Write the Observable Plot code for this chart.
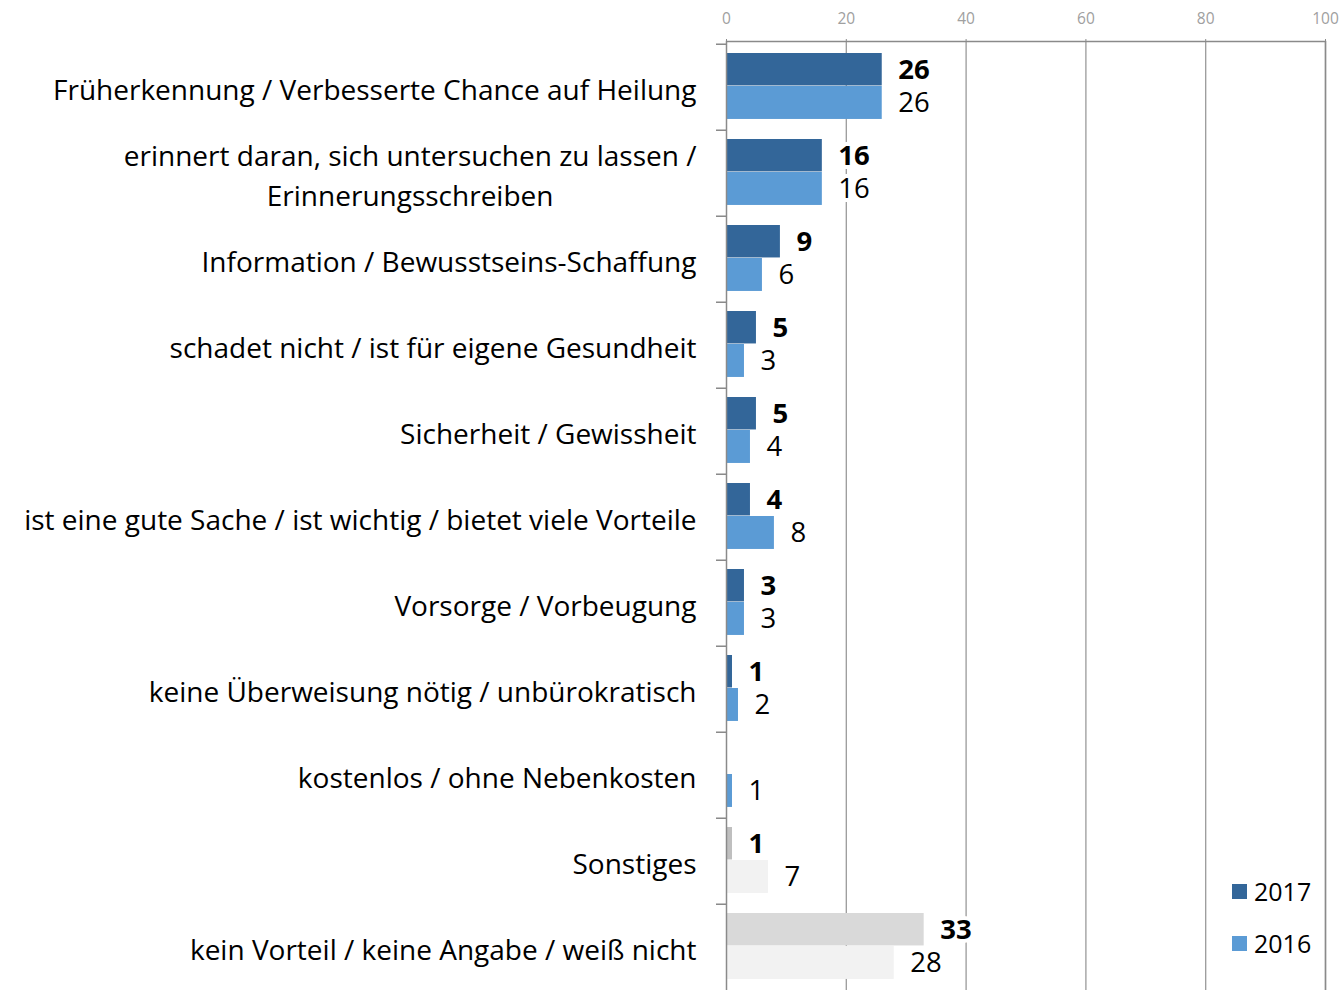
<!DOCTYPE html>
<html>
<head>
<meta charset="utf-8">
<script src="https://cdn.jsdelivr.net/npm/d3@7"></script>
<script src="https://cdn.jsdelivr.net/npm/@observablehq/plot@0.6"></script>
<style>
  html, body { margin: 0; padding: 0; background: #fff; overflow: hidden; }
  #wrap { position: relative; width: 1342px; height: 990px; }
  .legend { position: absolute; left: 1232px; font-family: 'Open Sans', sans-serif; font-size: 25px; line-height: 30px; color: #000; display: flex; align-items: center; }
  .legend span.sw { display: inline-block; width: 15px; height: 15px; margin-right: 7px; }
</style>
</head>
<body>
<div id="wrap"></div>
<script>
const categories = [
  "Früherkennung / Verbesserte Chance auf Heilung",
  "erinnert daran, sich untersuchen zu lassen /\nErinnerungsschreiben",
  "Information / Bewusstseins-Schaffung",
  "schadet nicht / ist für eigene Gesundheit",
  "Sicherheit / Gewissheit",
  "ist eine gute Sache / ist wichtig / bietet viele Vorteile",
  "Vorsorge / Vorbeugung",
  "keine Überweisung nötig / unbürokratisch",
  "kostenlos / ohne Nebenkosten",
  "Sonstiges",
  "kein Vorteil / keine Angabe / weiß nicht"
];
const values2017 = [26, 16, 9, 5, 5, 4, 3, 1, null, 1, 33];
const values2016 = [26, 16, 6, 3, 4, 8, 3, 2, 1, 7, 28];
const years = ["2017", "2016"];
const xTicks = [0, 20, 40, 60, 80, 100];

const blue = {"2017": "#336699", "2016": "#5b9bd5"};
const greys = {
  "Sonstiges": {"2017": "#bfbfbf", "2016": "#f2f2f2"},
  "kein Vorteil / keine Angabe / weiß nicht": {"2017": "#d9d9d9", "2016": "#f2f2f2"}
};
const fillFor = d => (greys[d.category] || blue)[d.year];

const rows2017 = categories.map((c, i) => ({category: c, year: years[0], value: values2017[i]})).filter(d => d.value != null);
const rows2016 = categories.map((c, i) => ({category: c, year: years[1], value: values2016[i]})).filter(d => d.value != null);

const W = 1342, H = 993, mTop = 41, mLeft = 726, mRight = 17, mBottom = 0;
const bw = (H - mTop - mBottom) / categories.length;
const font = "'Open Sans', sans-serif";

const chart = Plot.plot({
  width: W,
  height: H,
  marginTop: mTop,
  marginLeft: mLeft,
  marginRight: mRight,
  marginBottom: mBottom,
  style: {fontFamily: font, fontSize: "26px", background: "#fff"},
  x: {domain: [0, 100], ticks: xTicks, label: null},
  y: {domain: categories, padding: 0, label: null},
  marks: [
    Plot.ruleX(xTicks.slice(1), {stroke: "#9a9a9a", strokeWidth: 1.3}),
    Plot.barX(rows2017, {x: "value", y: "category", fill: fillFor, insetTop: 9, insetBottom: bw - 42}),
    Plot.barX(rows2016, {x: "value", y: "category", fill: fillFor, insetTop: 42, insetBottom: bw - 75.5}),
    Plot.text(rows2017, {x: "value", y: "category", text: d => String(d.value), textAnchor: "start", dx: 16, dy: -17, fontWeight: "bold", fontSize: 27.5, fill: "#000", stroke: "#fff", strokeWidth: 8}),
    Plot.text(rows2016, {x: "value", y: "category", text: d => String(d.value), textAnchor: "start", dx: 16, dy: 16, fontSize: 27.5, fill: "#000", stroke: "#fff", strokeWidth: 8}),
    Plot.frame({stroke: "#8a8a8a", strokeWidth: 1.5}),
    Plot.ruleY(categories, {y: d => d, x1: 0, x2: 0, insetLeft: -10, dy: -bw / 2, stroke: "#8a8a8a", strokeWidth: 1.5}),
    Plot.axisX({anchor: "top", ticks: xTicks, tickSize: 3, tickPadding: 15, fontSize: 15.5, stroke: "#8a8a8a", fill: "#a0a0a0", label: null}),
    Plot.axisY({anchor: "left", tickSize: 0, tickPadding: 30, fontSize: 28, lineHeight: 1.43, fill: "#000", label: null})
  ]
});

document.getElementById("wrap").appendChild(chart);

// center multi-line tick labels within their right-aligned block
chart.querySelectorAll("text").forEach(t => {
  const spans = t.querySelectorAll("tspan");
  if (spans.length > 1) {
    const w = t.getBBox().width;
    t.setAttribute("text-anchor", "middle");
    spans.forEach(s => s.setAttribute("x", String(-w / 2)));
  }
});

// legend
const wrap = document.getElementById("wrap");
[["2017", 876], ["2016", 928]].forEach(([y, top]) => {
  const div = document.createElement("div");
  div.className = "legend";
  div.style.top = top + "px";
  const sw = document.createElement("span");
  sw.className = "sw";
  sw.style.background = blue[y];
  const tx = document.createElement("span");
  tx.textContent = y;
  div.appendChild(sw);
  div.appendChild(tx);
  wrap.appendChild(div);
});
</script>
</body>
</html>
